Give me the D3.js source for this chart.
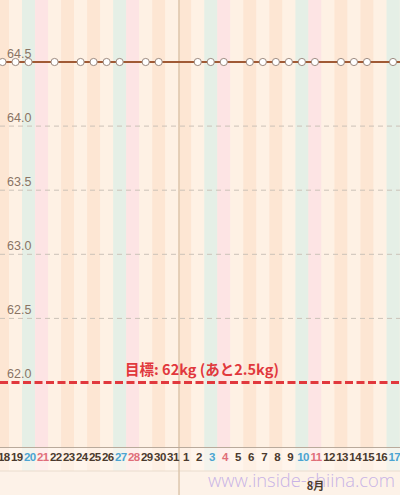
<!DOCTYPE html>
<html>
<head>
<meta charset="utf-8">
<script src="https://cdn.jsdelivr.net/npm/d3@7"></script>
<style>
html,body{margin:0;padding:0;background:#fdf2e8;}
svg{display:block;}
</style>
</head>
<body>
<svg id="chart" width="400" height="495"></svg>
<script>
// ---- data ----
const startDate = "2019-07-18";
const dayCount = 31;                       // Jul 18 .. Aug 17
const weighDates = ["2019-07-18","2019-07-19","2019-07-20","2019-07-22","2019-07-24","2019-07-25",
  "2019-07-26","2019-07-27","2019-07-29","2019-07-30","2019-08-02","2019-08-03","2019-08-04",
  "2019-08-06","2019-08-07","2019-08-08","2019-08-09","2019-08-10","2019-08-11","2019-08-13",
  "2019-08-14","2019-08-15","2019-08-17"];
const weights = [64.5,64.5,64.5,64.5,64.5,64.5,64.5,64.5,64.5,64.5,64.5,64.5,64.5,
  64.5,64.5,64.5,64.5,64.5,64.5,64.5,64.5,64.5,64.5];
const yTicks = [62.0, 62.5, 63.0, 63.5, 64.0, 64.5];
const goalWeight = 62.0;
const goalLabel = "目標: 62kg (あと2.5kg)";
const monthLabel = "8月";
const watermark = "www.inside-shiina.com";

// ---- setup ----
const W = 400, H = 495;
const plotBottom = 447.5, bandBottom = 471;
const svg = d3.select("#chart");
const parse = d3.timeParse("%Y-%m-%d");
const t0 = parse(startDate);
const days = d3.range(dayCount).map(i => d3.timeDay.offset(t0, i));
const idx = d => Math.round((d - t0) / 864e5);

const x = d3.scaleLinear().domain([0, dayCount - 1]).range([2.5, 393]);
const step = x(1) - x(0);
const y = d3.scaleLinear().domain([62, 64.5]).range([382.5, 62]);

const stripeColor = d => {
  const wd = d.getDay();
  if (wd === 6) return "#e5efe6";
  if (wd === 0) return "#fde4e4";
  return (wd === 2 || wd === 4) ? "#fde6d3" : "#fef1e4";
};

// background stripes
svg.append("g").selectAll("rect").data(days).join("rect")
  .attr("x", (d, i) => x(i) - step / 2)
  .attr("width", step + 0.3)
  .attr("y", 0)
  .attr("height", bandBottom)
  .attr("fill", stripeColor);

// label band overlay
svg.append("rect").attr("x", 0).attr("y", plotBottom).attr("width", W)
  .attr("height", bandBottom - plotBottom).attr("fill", "#fff8f2").attr("opacity", 0.55);
svg.append("line").attr("x1", 0).attr("x2", W).attr("y1", bandBottom).attr("y2", bandBottom)
  .attr("stroke", "#eadccd").attr("stroke-width", 1);

// month divider
const firstOfMonth = days.findIndex(d => d.getDate() === 1);
svg.append("line")
  .attr("x1", x(firstOfMonth - 0.5) + 0.8).attr("x2", x(firstOfMonth - 0.5) + 0.8)
  .attr("y1", 0).attr("y2", H)
  .attr("stroke", "#dcc6ad").attr("stroke-width", 1.5);

// grid lines
svg.append("g").selectAll("line").data(yTicks.filter(v => v !== goalWeight && v !== 64.5)).join("line")
  .attr("x1", 0).attr("x2", W)
  .attr("y1", d => y(d)).attr("y2", d => y(d))
  .attr("stroke", "#cbc2b8").attr("stroke-width", 1)
  .attr("stroke-dasharray", "5,4");

// y tick labels
svg.append("g").selectAll("text").data(yTicks).join("text")
  .attr("x", 7).attr("y", d => y(d) - 4.5)
  .attr("font-family", "Liberation Sans, Arial, sans-serif")
  .attr("font-size", 12.5)
  .attr("fill", "#8a7464")
  .text(d => d.toFixed(1));

// goal line
svg.append("line")
  .attr("x1", 0).attr("x2", W)
  .attr("y1", y(goalWeight)).attr("y2", y(goalWeight))
  .attr("stroke", "#e1383d").attr("stroke-width", 3)
  .attr("stroke-dasharray", "8,3.5");
svg.append("text")
  .attr("x", 202).attr("y", y(goalWeight) - 7.5)
  .attr("text-anchor", "middle")
  .attr("font-family", "Noto Sans CJK JP, sans-serif")
  .attr("font-weight", "bold")
  .attr("font-size", 14.5)
  .attr("fill", "#e1383d")
  .text(goalLabel);

// weight line
const pts = weighDates.map((s, i) => ({ i: idx(parse(s)), v: weights[i] }));
const linePts = [{ i: x.invert(-5), v: pts[0].v }, ...pts, { i: x.invert(W + 5), v: pts[pts.length - 1].v }];
svg.append("path")
  .attr("d", d3.line().x(d => x(d.i)).y(d => y(d.v))(linePts))
  .attr("fill", "none").attr("stroke", "#a05a35").attr("stroke-width", 2);
svg.append("g").selectAll("circle").data(pts).join("circle")
  .attr("cx", d => x(d.i)).attr("cy", d => y(d.v)).attr("r", 3.6)
  .attr("fill", "#ffffff").attr("stroke", "#9c8a80").attr("stroke-width", 1);

// x axis line
svg.append("line").attr("x1", 0).attr("x2", W).attr("y1", plotBottom).attr("y2", plotBottom)
  .attr("stroke", "#b9aa9b").attr("stroke-width", 1);

// day labels
const labelColor = d => d.getDay() === 6 ? "#4ba4d2" : d.getDay() === 0 ? "#e06e7a" : "#4a3a2e";
svg.append("g").selectAll("text").data(days).join("text")
  .attr("x", (d, i) => x(i) + 1.2).attr("y", 460.5)
  .attr("text-anchor", "middle")
  .attr("font-family", "Liberation Sans, Arial, sans-serif")
  .attr("font-size", 11.5)
  .attr("font-weight", "bold")
  .attr("letter-spacing", -0.6)
  .attr("fill", labelColor)
  .text(d => d.getDate());

// watermark
svg.append("text")
  .attr("x", 208).attr("y", 487)
  .attr("font-family", "Open Sans, Liberation Sans, sans-serif")
  .attr("font-weight", 300)
  .attr("font-size", 18)
  .attr("textLength", 187)
  .attr("lengthAdjust", "spacingAndGlyphs")
  .attr("fill", "#c8b2e6")
  .text(watermark);

// month label
svg.append("text")
  .attr("x", x(firstOfMonth + 10) + 0.5).attr("y", 490)
  .attr("text-anchor", "middle")
  .attr("font-family", "Noto Sans CJK JP, sans-serif")
  .attr("font-weight", "bold")
  .attr("font-size", 11)
  .attr("fill", "#4a3a2e")
  .text(monthLabel);
</script>
</body>
</html>
